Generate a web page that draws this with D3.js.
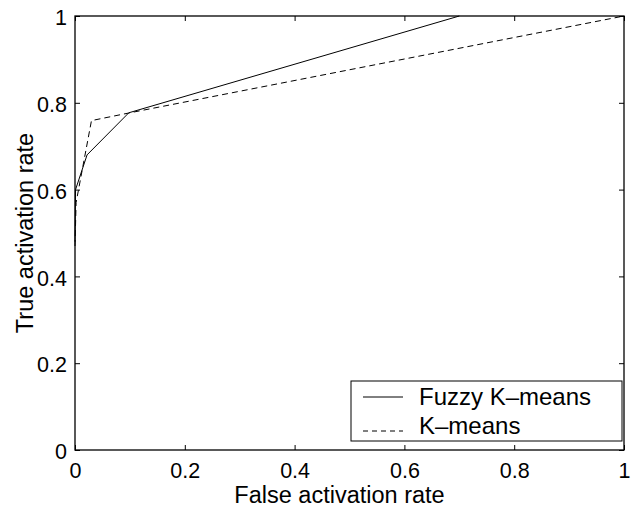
<!DOCTYPE html>
<html>
<head>
<meta charset="utf-8">
<script src="https://cdn.jsdelivr.net/npm/d3@7"></script>
<style>
  body { margin: 0; background: #fff; }
  text { font-family: "Liberation Sans", Arial, sans-serif; fill: #000; }
</style>
</head>
<body>
<div id="chart"></div>
<script>
// datos
var fuzzyX = [0, 0.001, 0.022, 0.098, 0.7];
var fuzzyY = [0.48, 0.6, 0.68, 0.777, 1];
var kmeansX = [0, 0.002, 0.03, 0.1, 1];
var kmeansY = [0.47, 0.57, 0.759, 0.777, 1];
var seriesNames = ["Fuzzy K\u2013means", "K\u2013means"];
var tickValues = [0, 0.2, 0.4, 0.6, 0.8, 1];

var width = 634, height = 514;
var margin = { top: 16, right: 10, bottom: 64, left: 75 };
var w = width - margin.left - margin.right;
var h = height - margin.top - margin.bottom;

var svg = d3.select("#chart").append("svg")
    .attr("width", width)
    .attr("height", height);

var g = svg.append("g")
    .attr("transform", "translate(" + margin.left + "," + margin.top + ")");

var x = d3.scaleLinear().domain([0, 1]).range([0, w]);
var y = d3.scaleLinear().domain([0, 1]).range([h, 0]);

var fmt = function(d) { return d === 0 || d === 1 ? String(d) : d3.format(".1f")(d); };

// ejes con ticks hacia dentro
var xAxis = g.append("g")
    .attr("transform", "translate(0," + h + ")")
    .call(d3.axisBottom(x).tickValues(tickValues).tickFormat(fmt).tickSizeInner(-5).tickSizeOuter(0).tickPadding(13));
var yAxis = g.append("g")
    .call(d3.axisLeft(y).tickValues(tickValues).tickFormat(fmt).tickSizeInner(-5).tickSizeOuter(0).tickPadding(8));
var xTop = g.append("g")
    .call(d3.axisTop(x).tickValues(tickValues).tickFormat("").tickSizeInner(-5).tickSizeOuter(0));
var yRight = g.append("g")
    .attr("transform", "translate(" + w + ",0)")
    .call(d3.axisRight(y).tickValues(tickValues).tickFormat("").tickSizeInner(-5).tickSizeOuter(0));

[xAxis, yAxis, xTop, yRight].forEach(function(a) {
    a.select(".domain").remove();
    a.selectAll("line").attr("stroke", "#000").attr("stroke-width", 1);
    a.selectAll("text").style("font-size", "21.5px").attr("fill", "#000");
});
xAxis.selectAll("text").attr("dy", "0.71em");
yAxis.selectAll("text").attr("dy", "0.4em");

// marco
g.append("rect")
    .attr("x", 0).attr("y", 0)
    .attr("width", w).attr("height", h)
    .attr("fill", "none")
    .attr("stroke", "#000")
    .attr("stroke-width", 1.3);

var line = d3.line()
    .x(function(d) { return x(d[0]); })
    .y(function(d) { return y(d[1]); });

var fuzzy = fuzzyX.map(function(v, i) { return [v, fuzzyY[i]]; });
var kmeans = kmeansX.map(function(v, i) { return [v, kmeansY[i]]; });

g.append("path")
    .datum(fuzzy)
    .attr("d", line)
    .attr("fill", "none")
    .attr("stroke", "#000")
    .attr("stroke-width", 1);

g.append("path")
    .datum(kmeans)
    .attr("d", line)
    .attr("fill", "none")
    .attr("stroke", "#000")
    .attr("stroke-width", 1)
    .attr("stroke-dasharray", "6,4");

// titulos de ejes
svg.append("text")
    .attr("x", margin.left + w / 2 - 10)
    .attr("y", 503)
    .attr("text-anchor", "middle")
    .style("font-size", "23.5px")
    .text("False activation rate");

svg.append("text")
    .attr("transform", "translate(33," + (margin.top + h / 2) + ") rotate(-90)")
    .attr("text-anchor", "middle")
    .style("font-size", "23.5px")
    .text("True activation rate");

// leyenda
var legend = svg.append("g").attr("transform", "translate(351,381)");
legend.append("rect")
    .attr("width", 271).attr("height", 60)
    .attr("fill", "#fff")
    .attr("stroke", "#000")
    .attr("stroke-width", 1);
var sampleY = [16, 50];
var labelY = [24, 53];
seriesNames.forEach(function(name, i) {
    legend.append("line")
        .attr("x1", 12).attr("x2", 52)
        .attr("y1", sampleY[i]).attr("y2", sampleY[i])
        .attr("stroke", "#000")
        .attr("stroke-width", 1)
        .attr("stroke-dasharray", i === 1 ? "5,4" : null);
    legend.append("text")
        .attr("x", 68).attr("y", labelY[i])
        .style("font-size", "24px")
        .text(name);
});
</script>
</body>
</html>
